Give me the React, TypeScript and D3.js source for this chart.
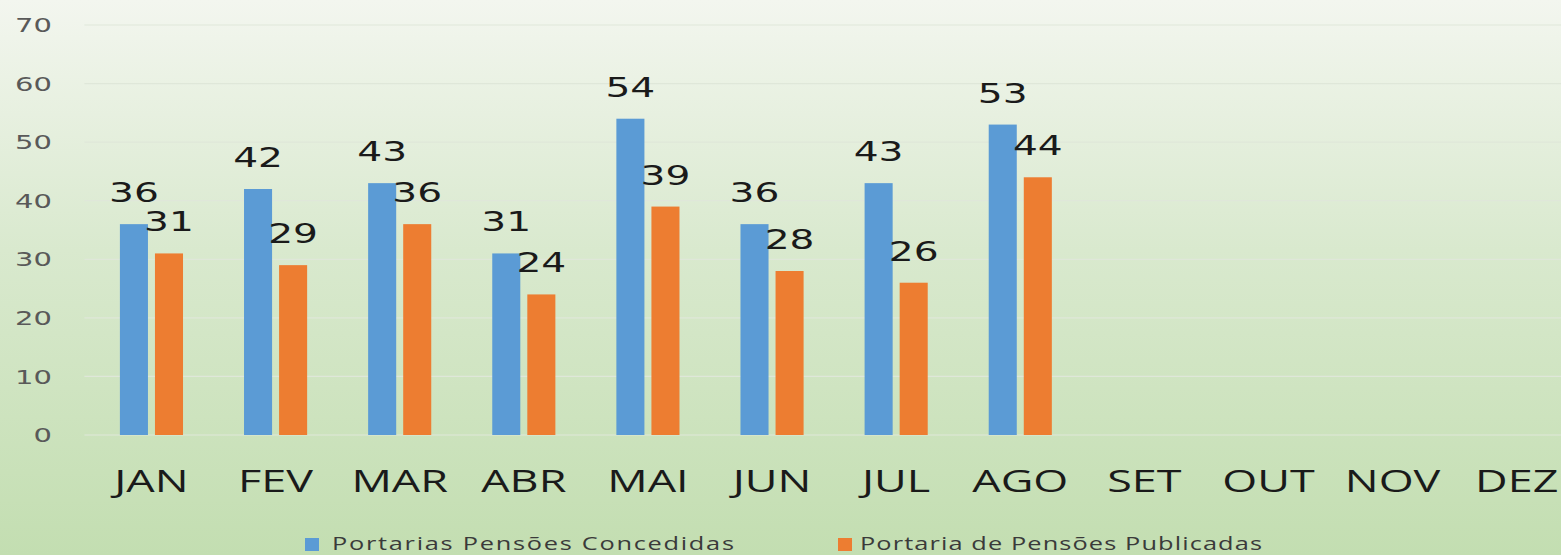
import React from 'react';
import * as d3 from 'd3';

// data
const months = ['JAN', 'FEV', 'MAR', 'ABR', 'MAI', 'JUN', 'JUL', 'AGO', 'SET', 'OUT', 'NOV', 'DEZ'];
const seriesNames = ['Portarias Pensões Concedidas', 'Portaria de Pensões Publicadas'];
const concedidas = [36, 42, 43, 31, 54, 36, 43, 53];
const publicadas = [31, 29, 36, 24, 39, 28, 26, 44];
const yTicks = [0, 10, 20, 30, 40, 50, 60, 70];
const colors = ['#5b9bd5', '#ed7d31'];

// the source picture is stretched sideways, so draw narrow and stretch
const WIDTH = 1561, HEIGHT = 555;
const S = 1.45;
const W = WIDTH / S;

export default function App() {
  const x0 = d3.scaleBand<string>()
    .domain(months)
    .range([89.4 / S, 1578.8 / S]);
  const x1 = d3.scaleBand<string>()
    .domain(seriesNames)
    .range([0, x0.bandwidth()])
    .paddingInner(0.2)
    .paddingOuter(0.87);
  const y = d3.scaleLinear().domain([0, 70]).range([435, 25]);

  const series = [concedidas, publicadas];
  const legendX = [305, 838];

  return (
    <svg width={WIDTH} height={HEIGHT} viewBox={`0 0 ${W} ${HEIGHT}`} preserveAspectRatio="none"
      style={{ position: 'absolute', left: 0, top: 0, display: 'block' }}>
      <defs>
        <linearGradient id="bg" x1="0" y1="0" x2="0" y2="1">
          <stop offset="0%" stopColor="#f3f6ef" />
          <stop offset="45%" stopColor="#d9e9ce" />
          <stop offset="100%" stopColor="#c3deb1" />
        </linearGradient>
      </defs>
      <rect x={0} y={0} width={W} height={HEIGHT} fill="url(#bg)" />

      {/* gridlines */}
      {yTicks.map(t => (
        <line key={t} x1={x0.range()[0] - 5 / S} x2={W} y1={y(t)} y2={y(t)}
          stroke="#dfe7d9" strokeWidth={1.2} vectorEffect="non-scaling-stroke" />
      ))}
      {/* y axis labels */}
      {yTicks.map(t => (
        <text key={'l' + t} x={52 / S} y={y(t)} dy="0.36em" textAnchor="end"
          fontFamily="'DejaVu Sans', sans-serif" fontSize={20} fill="#595959">{t}</text>
      ))}

      {/* bars */}
      {series.map((vals, si) => vals.map((v, i) => (
        <rect key={si + '-' + i}
          x={(x0(months[i]) as number) + (x1(seriesNames[si]) as number)}
          y={y(v)} width={x1.bandwidth()} height={y(0) - y(v)} fill={colors[si]} />
      )))}

      {/* data labels */}
      {series.map((vals, si) => vals.map((v, i) => (
        <text key={'d' + si + '-' + i}
          x={(x0(months[i]) as number) + (x1(seriesNames[si]) as number) + x1.bandwidth() / 2}
          y={y(v) - 22} textAnchor="middle"
          fontFamily="'DejaVu Sans', sans-serif" fontSize={27} fill="#1a1a1a">{v}</text>
      )))}

      {/* month labels */}
      {months.map(m => (
        <text key={m} x={(x0(m) as number) + x0.bandwidth() / 2} y={492} textAnchor="middle"
          fontFamily="'Open Sans', sans-serif" fontSize={31} fill="#1a1a1a">{m}</text>
      ))}

      {/* legend */}
      {seriesNames.map((n, i) => {
        const lx = legendX[i] / S;
        return (
          <g key={n}>
            <rect x={lx} y={538} width={14 / S} height={13} fill={colors[i]} />
            <text x={lx + (i === 0 ? 27 : 22) / S} y={550} fontFamily="'Open Sans', sans-serif" fontSize={17.5}
              fontWeight={500} textLength={402 / S} lengthAdjust="spacing" fill="#3a3a3a">{n}</text>
          </g>
        );
      })}
    </svg>
  );
}
